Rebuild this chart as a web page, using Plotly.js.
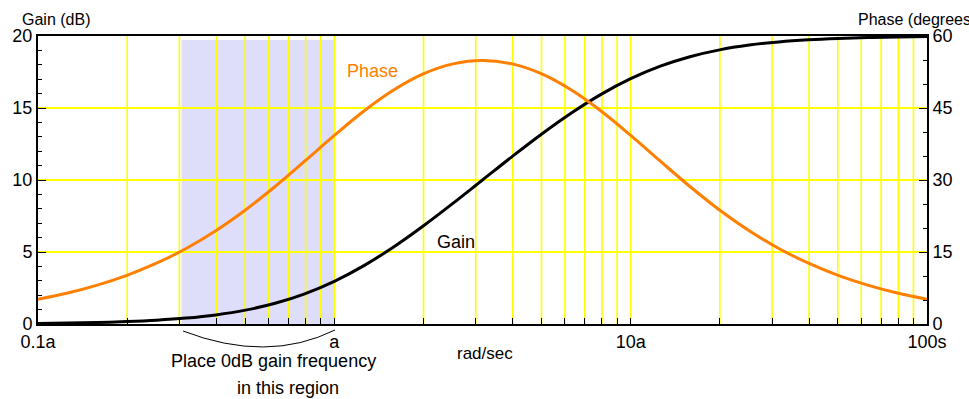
<!DOCTYPE html>
<html>
<head>
<meta charset="utf-8">
<script src="https://cdn.plot.ly/plotly-3.0.1.min.js"></script>
<style>html,body{margin:0;padding:0;background:#fff;}#chart{width:969px;height:399px;}</style>
</head>
<body>
<div id="chart"></div>
<script>
// frequency in units of a (rad/sec)
const freq = [0.1, 0.1259, 0.1585, 0.1995, 0.2512, 0.3162, 0.3981, 0.5012, 0.6310, 0.7943,
              1, 1.259, 1.585, 1.995, 2.512, 3.162, 3.981, 5.012, 6.310, 7.943,
              10, 12.59, 15.85, 19.95, 25.12, 31.62, 39.81, 50.12, 63.10, 79.43, 100];
// gain (dB)
const gainDb = [0.043, 0.068, 0.107, 0.168, 0.263, 0.410, 0.632, 0.962, 1.438, 2.097,
                2.967, 4.056, 5.348, 6.804, 8.373, 10.000, 11.627, 13.196, 14.652, 15.944,
                17.033, 17.903, 18.562, 19.038, 19.368, 19.590, 19.737, 19.832, 19.893, 19.932, 19.957];
// phase (degrees)
const phaseDeg = [5.14, 6.45, 8.10, 10.14, 12.66, 15.74, 19.43, 23.75, 28.64, 33.92,
                  39.29, 44.37, 48.74, 52.10, 54.19, 54.90, 54.19, 52.10, 48.74, 44.37,
                  39.29, 33.92, 28.64, 23.75, 19.43, 15.74, 12.66, 10.14, 8.10, 6.45, 5.14];
// x tick positions and labels
const xTickVals = [0.1,0.2,0.3,0.4,0.5,0.6,0.7,0.8,0.9,1,2,3,4,5,6,7,8,9,10,20,30,40,50,60,70,80,90,100];
const xTickText = xTickVals.map(v => v === 0.1 ? '0.1a' : v === 1 ? 'a' : v === 10 ? '10a' : v === 100 ? '100s' : '');
const gainTicks = [0, 5, 10, 15, 20];
const phaseTicks = [0, 15, 30, 45, 60];

const FONT = 'Liberation Sans, Arial, Helvetica, sans-serif';
const YEL = '#ffff00';

const traces = [
  {x: freq, y: gainDb, type: 'scatter', mode: 'lines', name: 'Gain',
   line: {color: '#000000', width: 3, shape: 'spline'}, yaxis: 'y', hoverinfo: 'skip'},
  {x: freq, y: phaseDeg, type: 'scatter', mode: 'lines', name: 'Phase',
   line: {color: '#ff8000', width: 3, shape: 'spline'}, yaxis: 'y2', hoverinfo: 'skip'}
];

const layout = {
  width: 969, height: 399,
  margin: {l: 38, r: 42, t: 36, b: 75},
  paper_bgcolor: '#ffffff', plot_bgcolor: '#ffffff',
  showlegend: false,
  font: {family: FONT, size: 18, color: '#000'},
  xaxis: {
    type: 'log', range: [-1, 2],
    tickmode: 'array', tickvals: xTickVals, ticktext: xTickText,
    ticks: 'inside', ticklen: 6, tickcolor: '#000', tickwidth: 1,
    showgrid: true, gridcolor: YEL, gridwidth: 1.6,
    showline: true, linecolor: '#000', linewidth: 2, mirror: true,
    zeroline: false, tickfont: {size: 18, family: FONT, color: '#000'}
  },
  yaxis: {
    range: [0, 20], tickmode: 'array', tickvals: gainTicks,
    ticks: 'inside', ticklen: 8, tickcolor: '#000', tickwidth: 1,
    minor: {dtick: 1, ticks: 'inside', ticklen: 4, tickcolor: '#000', showgrid: false},
    showgrid: true, gridcolor: YEL, gridwidth: 1.5,
    showline: true, linecolor: '#000', linewidth: 2, mirror: true,
    zeroline: false, tickfont: {size: 18, family: FONT, color: '#000'}
  },
  yaxis2: {
    overlaying: 'y', side: 'right',
    range: [0, 60], tickmode: 'array', tickvals: phaseTicks,
    ticks: 'inside', ticklen: 8, tickcolor: '#000', tickwidth: 1,
    minor: {dtick: 5, ticks: 'inside', ticklen: 4, tickcolor: '#000', showgrid: false},
    showgrid: false, showline: true, linecolor: '#000', linewidth: 2,
    zeroline: false, tickfont: {size: 18, family: FONT, color: '#000'}
  },
  shapes: [
    {type: 'rect', xref: 'x', yref: 'y', x0: 0.305, x1: 1, y0: -0.2, y1: 19.72,
     fillcolor: '#dedefa', line: {width: 0}, layer: 'below'},
    {type: 'path', xref: 'paper', yref: 'paper',
     path: 'M 0.1631 -0.0243 Q 0.258 -0.137 0.3341 -0.0208',
     line: {color: '#000', width: 1}, layer: 'above'}
  ],
  annotations: [
    {xref: 'paper', yref: 'paper', x: -0.0203, y: 1.0556, xanchor: 'left', yanchor: 'middle',
     text: 'Gain (dB)', showarrow: false, font: {size: 16, family: FONT, color: '#000'}},
    {xref: 'paper', yref: 'paper', x: 0.920, y: 1.0556, xanchor: 'left', yanchor: 'middle',
     text: 'Phase (degrees)', showarrow: false, font: {size: 16, family: FONT, color: '#000'}},
    {xref: 'paper', yref: 'paper', x: 0.376, y: 0.878, xanchor: 'center', yanchor: 'middle',
     text: 'Phase', showarrow: false, font: {size: 18, family: FONT, color: '#ff8000'}},
    {xref: 'paper', yref: 'paper', x: 0.4707, y: 0.285, xanchor: 'center', yanchor: 'middle',
     text: 'Gain', showarrow: false, font: {size: 18, family: FONT, color: '#000'}},
    {xref: 'paper', yref: 'paper', x: 0.503, y: -0.1007, xanchor: 'center', yanchor: 'middle',
     text: 'rad/sec', showarrow: false, font: {size: 17, family: FONT, color: '#000'}},
    {xref: 'paper', yref: 'paper', x: 0.2652, y: -0.1285, xanchor: 'center', yanchor: 'middle',
     text: 'Place 0dB gain frequency', showarrow: false, font: {size: 18, family: FONT, color: '#000'}},
    {xref: 'paper', yref: 'paper', x: 0.2815, y: -0.222, xanchor: 'center', yanchor: 'middle',
     text: 'in this region', showarrow: false, font: {size: 18, family: FONT, color: '#000'}}
  ]
};

Plotly.newPlot('chart', traces, layout, {staticPlot: true, displayModeBar: false}).then(function (gd) {
  gd.querySelectorAll('path.xgrid').forEach(function (p) {
    p.style.setProperty('shape-rendering', 'geometricPrecision', 'important');
  });
});
</script>
</body>
</html>
